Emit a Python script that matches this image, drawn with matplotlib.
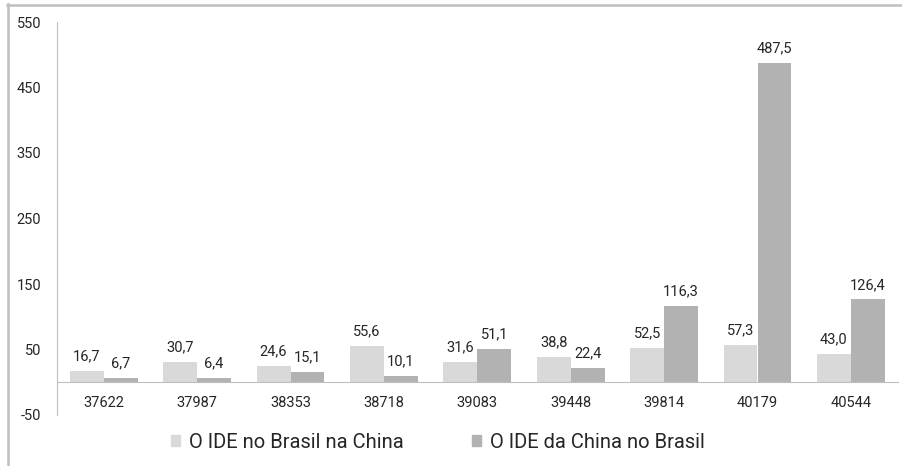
import numpy as np
import matplotlib.pyplot as plt
from matplotlib.lines import Line2D
from matplotlib.patches import Patch

plt.rcParams['font.family'] = ['Roboto', 'DejaVu Sans']

# Data
categories = ['37622', '37987', '38353', '38718', '39083', '39448', '39814', '40179', '40544']
ide_brasil_china = [16.7, 30.7, 24.6, 55.6, 31.6, 38.8, 52.5, 57.3, 43.0]
ide_china_brasil = [6.7, 6.4, 15.1, 10.1, 51.1, 22.4, 116.3, 487.5, 126.4]
series_names = ['O IDE no Brasil na China', 'O IDE da China no Brasil']
yticks = [-50, 50, 150, 250, 350, 450, 550]

light = '#d9d9d9'
dark = '#b2b2b2'
text_color = '#262626'
line_color = '#bfbfbf'

fig = plt.figure(figsize=(9.02, 4.66), dpi=100)
W, H = 902, 466
ax = fig.add_axes([57 / W, 51 / H, 840.6 / W, 393 / H])

x = np.arange(len(categories))
w = 0.364
b1 = ax.bar(x - w / 2, ide_brasil_china, w, color=light, label=series_names[0])
b2 = ax.bar(x + w / 2, ide_china_brasil, w, color=dark, label=series_names[1])

def fmt(v):
    return f'{v:.1f}'.replace('.', ',')

for bars, vals in ((b1, ide_brasil_china), (b2, ide_china_brasil)):
    for rect, v in zip(bars, vals):
        ax.annotate(fmt(v), (rect.get_x() + rect.get_width() / 2, v),
                    xytext=(0, 5.5), textcoords='offset points',
                    ha='center', va='bottom', fontsize=10.5, color=text_color)

ax.set_xlim(-0.5, len(categories) - 0.5)
ax.set_ylim(-50, 550)
ax.set_yticks(yticks)
ax.set_yticklabels([str(t) for t in yticks])
ax.set_xticks(x)
ax.set_xticklabels(categories)

for s in ('top', 'right'):
    ax.spines[s].set_visible(False)
ax.spines['bottom'].set_position(('data', 0))
ax.spines['bottom'].set_color(line_color)
ax.spines['left'].set_color(line_color)
ax.tick_params(axis='y', length=0, pad=11.5, labelsize=10.5, labelcolor=text_color)
ax.tick_params(axis='x', length=0, pad=10, labelsize=10.5, labelcolor=text_color)

# Outer frame (only top and left visible)
fig.add_artist(Line2D([7 / W, 1], [1 - 4.5 / H, 1 - 4.5 / H], color=line_color, lw=1.8))
fig.add_artist(Line2D([8 / W, 8 / W], [0, 1 - 4 / H], color=line_color, lw=1.8))

handles = [Patch(color=light), Patch(color=dark)]
fig.legend(handles, series_names, loc='center', bbox_to_anchor=(438 / W, 1 - 442 / H),
           ncol=2, frameon=False, fontsize=14.5, handlelength=0.45, handleheight=0.45,
           handletextpad=0.45, columnspacing=3.4, labelcolor=text_color)

fig.savefig('out.png', dpi=100)
